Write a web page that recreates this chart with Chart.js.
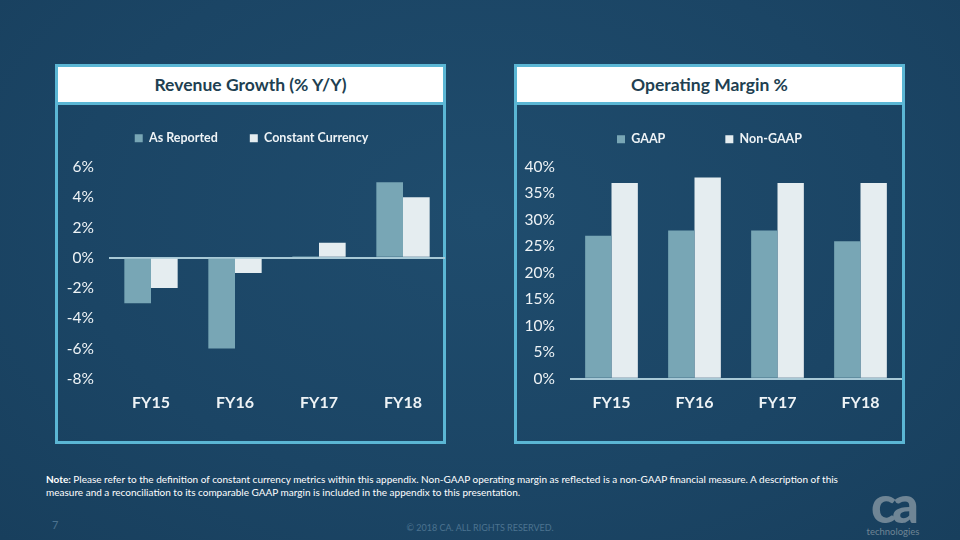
<!DOCTYPE html>
<html><head><meta charset="utf-8">
<script src="https://cdn.jsdelivr.net/npm/chart.js@4/dist/chart.umd.min.js"></script>
<style>
html,body{margin:0;padding:0;}
body{width:960px;height:540px;position:relative;overflow:hidden;background:#1c4767;
 background-image:radial-gradient(ellipse at 50% 40%, #1f4c6d 0%, #1b4565 60%, #183f5d 100%);font-family:Lato,"Open Sans",sans-serif;}
.panel{position:absolute;border:3px solid #5bb6d4;box-sizing:border-box;}
.title{position:absolute;left:0;right:0;top:0;height:35px;background:#fff;border-bottom:3px solid #5bb6d4;
 color:#213f51;font-weight:bold;font-size:17.5px;text-align:center;line-height:35px;}
canvas{position:absolute;}
.note{position:absolute;left:46px;top:473px;color:#fff;font-size:10px;line-height:13px;white-space:nowrap;}
.foot{position:absolute;color:#4c7390;font-size:9px;}
.logo{position:absolute;left:860px;top:480px;width:66px;color:#6f8595;text-align:center;}
</style></head><body>
<div class="panel" style="left:55px;top:64px;width:391px;height:380px"><div class="title">Revenue Growth (% Y/Y)</div></div>
<div class="panel" style="left:514px;top:64px;width:391px;height:380px"><div class="title">Operating Margin %</div></div>
<canvas id="c1" width="387" height="326" style="left:58px;top:100px;width:387px;height:326px"></canvas>
<canvas id="c2" width="385" height="353" style="left:517px;top:73px;width:385px;height:353px"></canvas>
<div class="note"><b>Note:</b> Please refer to the definition of constant currency metrics within this appendix. Non-GAAP operating margin as reflected is a non-GAAP financial measure. A description of this<br>measure and a reconciliation to its comparable GAAP margin is included in the appendix to this presentation.</div>
<div class="foot" style="left:52px;top:518px;font-size:11px">7</div>
<div class="foot" style="left:0;width:960px;text-align:center;top:522px">© 2018 CA. ALL RIGHTS RESERVED.</div>
<div class="logo"><div style="font-size:52px;font-weight:900;line-height:46px;letter-spacing:-4px">ca</div><div style="font-size:9.5px;line-height:12px">technologies</div></div>
<script>
const categories = ['FY15','FY16','FY17','FY18'];
const revAsReported = [-3, -6, 0.1, 5];
const revConstantCurrency = [-2, -1, 1, 4];
const opGAAP = [27, 28, 28, 26];
const opNonGAAP = [37, 38, 37, 37];

const C_DARK = '#78a6b5';
const C_LIGHT = '#e5edf0';
const TXT = '#eef3f6';

// keep legend item spacing independent from the legend's box height
const legendFix = {
  id: 'legendFix',
  beforeLayout(chart, args, opts) {
    const lg = chart.legend;
    if (lg && !lg._fx) {
      const f = lg.fit;
      lg.fit = function () { f.call(this); this.height = opts.h; };
      lg._fx = true;
    }
  }
};

function makeChart(id, labels, sets, yMin, yMax, step, legendPad, legendH, yWidth) {
  return new Chart(document.getElementById(id), {
    type: 'bar',
    plugins: [legendFix],
    data: { labels: labels, datasets: sets.map(s => ({
      label: s.label, data: s.data, backgroundColor: s.color, borderWidth: 0,
      categoryPercentage: 0.635, barPercentage: 1 })) },
    options: {
      responsive: false, animation: false,
      layout: { padding: 0 },
      plugins: {
        tooltip: { enabled: false },
        legendFix: { h: legendH },
        legend: { position: 'top',
          labels: { color: TXT, boxWidth: 8, boxHeight: 8, padding: legendPad,
            font: { family: 'Lato', size: 12.5, weight: 'bold' } } }
      },
      scales: {
        x: { grid: { display: false, drawTicks: false }, border: { display: false },
          ticks: { color: TXT, padding: 14, font: { family: 'Lato', size: 16, weight: 'bold' } } },
        y: { min: yMin, max: yMax,
          afterFit: sc => { sc.width = yWidth; },
          grid: { drawTicks: false, lineWidth: 2,
            color: c => (c.tick && c.tick.value === 0) ? '#a8c9d6' : 'rgba(0,0,0,0)' },
          border: { display: false },
          ticks: { stepSize: step, color: TXT, padding: 15,
            font: { family: 'Lato', size: 15.5 }, callback: v => v + '%' } }
      }
    }
  });
}

makeChart('c1', categories, [
  { label: 'As Reported', data: revAsReported, color: C_DARK },
  { label: 'Constant Currency', data: revConstantCurrency, color: C_LIGHT }
], -8, 6, 2, 32, 67, 51);

makeChart('c2', categories, [
  { label: 'GAAP', data: opGAAP, color: C_DARK },
  { label: 'Non-GAAP', data: opNonGAAP, color: C_LIGHT }
], 0, 40, 5, 60, 94, 53);
</script>
</body></html>
